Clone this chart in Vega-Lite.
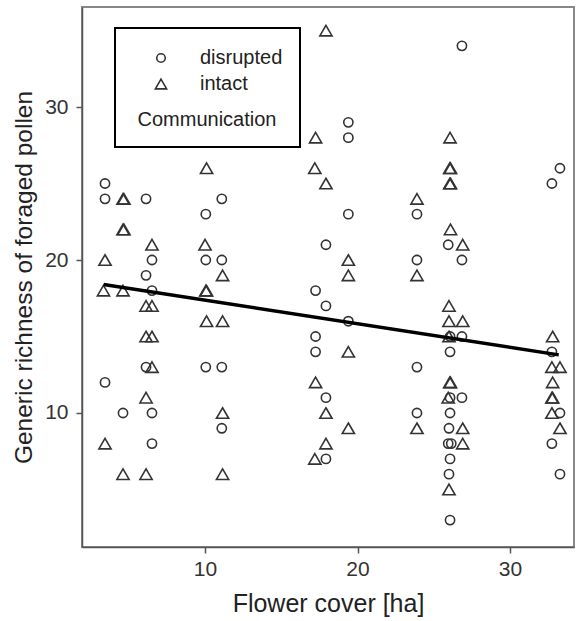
{
  "$schema": "https://vega.github.io/schema/vega-lite/v6.json",
  "autosize": "none",
  "width": 492,
  "height": 540,
  "padding": {"left": 82, "top": 7, "right": 3, "bottom": 74},
  "background": "white",
  "datasets": {
    "pts": [
      {"cover": 3.44, "richness": 25, "Communication": "disrupted"},
      {"cover": 3.44, "richness": 24, "Communication": "disrupted"},
      {"cover": 3.44, "richness": 12, "Communication": "disrupted"},
      {"cover": 4.62, "richness": 10, "Communication": "disrupted"},
      {"cover": 6.13, "richness": 24, "Communication": "disrupted"},
      {"cover": 6.13, "richness": 19, "Communication": "disrupted"},
      {"cover": 6.13, "richness": 13, "Communication": "disrupted"},
      {"cover": 6.52, "richness": 20, "Communication": "disrupted"},
      {"cover": 6.52, "richness": 18, "Communication": "disrupted"},
      {"cover": 6.52, "richness": 10, "Communication": "disrupted"},
      {"cover": 6.52, "richness": 8, "Communication": "disrupted"},
      {"cover": 10.05, "richness": 23, "Communication": "disrupted"},
      {"cover": 10.05, "richness": 20, "Communication": "disrupted"},
      {"cover": 10.05, "richness": 13, "Communication": "disrupted"},
      {"cover": 11.1, "richness": 24, "Communication": "disrupted"},
      {"cover": 11.1, "richness": 20, "Communication": "disrupted"},
      {"cover": 11.1, "richness": 13, "Communication": "disrupted"},
      {"cover": 11.1, "richness": 9, "Communication": "disrupted"},
      {"cover": 17.25, "richness": 18, "Communication": "disrupted"},
      {"cover": 17.25, "richness": 15, "Communication": "disrupted"},
      {"cover": 17.25, "richness": 14, "Communication": "disrupted"},
      {"cover": 17.93, "richness": 21, "Communication": "disrupted"},
      {"cover": 17.93, "richness": 17, "Communication": "disrupted"},
      {"cover": 17.93, "richness": 11, "Communication": "disrupted"},
      {"cover": 17.93, "richness": 7, "Communication": "disrupted"},
      {"cover": 19.4, "richness": 29, "Communication": "disrupted"},
      {"cover": 19.4, "richness": 28, "Communication": "disrupted"},
      {"cover": 19.4, "richness": 23, "Communication": "disrupted"},
      {"cover": 19.4, "richness": 16, "Communication": "disrupted"},
      {"cover": 23.9, "richness": 23, "Communication": "disrupted"},
      {"cover": 23.9, "richness": 20, "Communication": "disrupted"},
      {"cover": 23.9, "richness": 13, "Communication": "disrupted"},
      {"cover": 23.9, "richness": 10, "Communication": "disrupted"},
      {"cover": 25.95, "richness": 21, "Communication": "disrupted"},
      {"cover": 26.07, "richness": 15, "Communication": "disrupted"},
      {"cover": 26.07, "richness": 14, "Communication": "disrupted"},
      {"cover": 26.07, "richness": 11, "Communication": "disrupted"},
      {"cover": 26.07, "richness": 10, "Communication": "disrupted"},
      {"cover": 26.0, "richness": 9, "Communication": "disrupted"},
      {"cover": 25.95, "richness": 8, "Communication": "disrupted"},
      {"cover": 26.15, "richness": 8, "Communication": "disrupted"},
      {"cover": 26.07, "richness": 7, "Communication": "disrupted"},
      {"cover": 26.0, "richness": 6, "Communication": "disrupted"},
      {"cover": 26.07, "richness": 3, "Communication": "disrupted"},
      {"cover": 26.85, "richness": 34, "Communication": "disrupted"},
      {"cover": 26.85, "richness": 20, "Communication": "disrupted"},
      {"cover": 26.85, "richness": 15, "Communication": "disrupted"},
      {"cover": 26.85, "richness": 11, "Communication": "disrupted"},
      {"cover": 32.75, "richness": 25, "Communication": "disrupted"},
      {"cover": 32.75, "richness": 14, "Communication": "disrupted"},
      {"cover": 32.75, "richness": 8, "Communication": "disrupted"},
      {"cover": 33.28, "richness": 26, "Communication": "disrupted"},
      {"cover": 33.28, "richness": 10, "Communication": "disrupted"},
      {"cover": 33.28, "richness": 6, "Communication": "disrupted"},
      {"cover": 3.44, "richness": 20, "Communication": "intact"},
      {"cover": 3.34, "richness": 18, "Communication": "intact"},
      {"cover": 3.44, "richness": 8, "Communication": "intact"},
      {"cover": 4.62, "richness": 24, "Communication": "intact"},
      {"cover": 4.68, "richness": 24, "Communication": "intact"},
      {"cover": 4.62, "richness": 22, "Communication": "intact"},
      {"cover": 4.68, "richness": 22, "Communication": "intact"},
      {"cover": 4.62, "richness": 18, "Communication": "intact"},
      {"cover": 4.62, "richness": 6, "Communication": "intact"},
      {"cover": 6.13, "richness": 17, "Communication": "intact"},
      {"cover": 6.13, "richness": 15, "Communication": "intact"},
      {"cover": 6.13, "richness": 11, "Communication": "intact"},
      {"cover": 6.13, "richness": 6, "Communication": "intact"},
      {"cover": 6.52, "richness": 21, "Communication": "intact"},
      {"cover": 6.52, "richness": 17, "Communication": "intact"},
      {"cover": 6.52, "richness": 15, "Communication": "intact"},
      {"cover": 6.52, "richness": 13, "Communication": "intact"},
      {"cover": 10.1, "richness": 26, "Communication": "intact"},
      {"cover": 10.0, "richness": 21, "Communication": "intact"},
      {"cover": 10.05, "richness": 18, "Communication": "intact"},
      {"cover": 10.1, "richness": 18, "Communication": "intact"},
      {"cover": 10.1, "richness": 16, "Communication": "intact"},
      {"cover": 11.15, "richness": 19, "Communication": "intact"},
      {"cover": 11.15, "richness": 16, "Communication": "intact"},
      {"cover": 11.15, "richness": 10, "Communication": "intact"},
      {"cover": 11.15, "richness": 6, "Communication": "intact"},
      {"cover": 17.25, "richness": 28, "Communication": "intact"},
      {"cover": 17.2, "richness": 26, "Communication": "intact"},
      {"cover": 17.25, "richness": 12, "Communication": "intact"},
      {"cover": 17.2, "richness": 7, "Communication": "intact"},
      {"cover": 17.93, "richness": 35, "Communication": "intact"},
      {"cover": 17.93, "richness": 25, "Communication": "intact"},
      {"cover": 17.93, "richness": 10, "Communication": "intact"},
      {"cover": 17.93, "richness": 8, "Communication": "intact"},
      {"cover": 19.4, "richness": 20, "Communication": "intact"},
      {"cover": 19.4, "richness": 19, "Communication": "intact"},
      {"cover": 19.4, "richness": 14, "Communication": "intact"},
      {"cover": 19.4, "richness": 9, "Communication": "intact"},
      {"cover": 23.9, "richness": 24, "Communication": "intact"},
      {"cover": 23.9, "richness": 19, "Communication": "intact"},
      {"cover": 23.9, "richness": 9, "Communication": "intact"},
      {"cover": 26.07, "richness": 28, "Communication": "intact"},
      {"cover": 26.05, "richness": 26, "Communication": "intact"},
      {"cover": 26.1, "richness": 26, "Communication": "intact"},
      {"cover": 26.05, "richness": 25, "Communication": "intact"},
      {"cover": 26.1, "richness": 25, "Communication": "intact"},
      {"cover": 26.1, "richness": 22, "Communication": "intact"},
      {"cover": 26.0, "richness": 17, "Communication": "intact"},
      {"cover": 26.0, "richness": 16, "Communication": "intact"},
      {"cover": 26.0, "richness": 15, "Communication": "intact"},
      {"cover": 26.05, "richness": 12, "Communication": "intact"},
      {"cover": 26.1, "richness": 12, "Communication": "intact"},
      {"cover": 25.95, "richness": 11, "Communication": "intact"},
      {"cover": 26.0, "richness": 5, "Communication": "intact"},
      {"cover": 26.9, "richness": 21, "Communication": "intact"},
      {"cover": 26.9, "richness": 16, "Communication": "intact"},
      {"cover": 26.9, "richness": 9, "Communication": "intact"},
      {"cover": 26.9, "richness": 8, "Communication": "intact"},
      {"cover": 32.8, "richness": 15, "Communication": "intact"},
      {"cover": 32.75, "richness": 13, "Communication": "intact"},
      {"cover": 32.8, "richness": 12, "Communication": "intact"},
      {"cover": 32.75, "richness": 11, "Communication": "intact"},
      {"cover": 32.8, "richness": 11, "Communication": "intact"},
      {"cover": 32.75, "richness": 10, "Communication": "intact"},
      {"cover": 33.28, "richness": 13, "Communication": "intact"},
      {"cover": 33.28, "richness": 9, "Communication": "intact"}
    ],
    "fit": [
      {"cover": 3.35, "richness": 18.4},
      {"cover": 33.2, "richness": 13.8}
    ]
  },
  "layer": [
    {
      "data": {"name": "pts"},
      "mark": {"type": "point", "filled": false, "strokeWidth": 1.6, "color": "#333333", "opacity": 1, "size": 165},
      "encoding": {
        "x": {"field": "cover", "type": "quantitative", "scale": {"domain": [1.93, 34.2], "nice": false, "zero": false},
              "axis": {"title": "Flower cover [ha]", "values": [10, 20, 30]}},
        "y": {"field": "richness", "type": "quantitative", "scale": {"domain": [1.24, 36.54], "nice": false, "zero": false},
              "axis": {"title": "Generic richness of foraged pollen", "values": [10, 20, 30], "titleFontSize": 24.5}},
        "shape": {"field": "Communication", "type": "nominal",
                  "scale": {"domain": ["disrupted", "intact"],
                            "range": ["M0,-0.72A0.72,0.72 0 1,1 0,0.72A0.72,0.72 0 1,1 0,-0.72Z", "M0,-0.82L0.95,0.82L-0.95,0.82Z"]},
                  "legend": {"title": "Communication", "orient": "none", "legendX": 33, "legendY": 21}}
      }
    },
    {
      "data": {"name": "fit"},
      "mark": {"type": "line", "color": "black", "strokeWidth": 3.5},
      "encoding": {
        "x": {"field": "cover", "type": "quantitative"},
        "y": {"field": "richness", "type": "quantitative"}
      }
    }
  ],
  "config": {
    "font": "Liberation Sans",
    "view": {"stroke": "#888888", "strokeWidth": 2},
    "axis": {
      "grid": false,
      "domainColor": "#555555",
      "domainWidth": 1.5,
      "tickColor": "#555555",
      "tickWidth": 1.5,
      "tickSize": 6,
      "labelFont": "Liberation Sans",
      "labelFontSize": 21,
      "labelColor": "#333333",
      "labelFlush": false,
      "labelPadding": 5,
      "titleFont": "Liberation Sans",
      "titleFontSize": 25,
      "titleFontWeight": "normal",
      "titleColor": "#222222"
    },
    "axisY": {"labelPadding": 8, "titlePadding": 8},
    "axisX": {"titlePadding": 12},
    "legend": {
      "strokeColor": "black",
      "strokeWidth": 2,
      "padding": 17,
      "titleOrient": "bottom",
      "titleAnchor": "middle",
      "titleFont": "Liberation Sans",
      "titleFontSize": 20,
      "titleFontWeight": "normal",
      "titleColor": "#222222",
      "titlePadding": 13,
      "labelFont": "Liberation Sans",
      "labelFontSize": 20,
      "labelColor": "#222222",
      "labelOffset": 29,
      "symbolOffset": 19,
      "symbolSize": 140,
      "symbolStrokeWidth": 1.6,
      "symbolStrokeColor": "#333333",
      "clipHeight": 26,
      "rowPadding": 0
    }
  }
}
